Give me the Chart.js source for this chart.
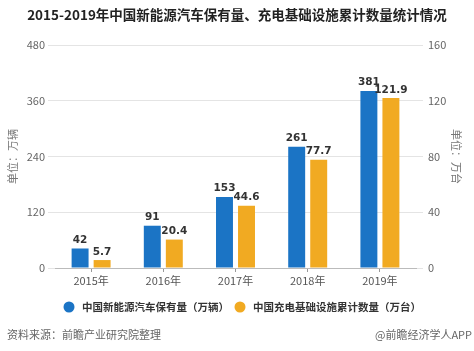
<!DOCTYPE html>
<html>
<head>
<meta charset="utf-8">
<script src="https://cdn.jsdelivr.net/npm/chart.js@4"></script>
<style>
  html, body { margin: 0; padding: 0; background: #fff; }
  #wrap { width: 474px; height: 351px; position: relative; }
</style>
</head>
<body>
<div id="wrap"><canvas id="chart" width="474" height="351"></canvas></div>
<script>
const years = ["2015年", "2016年", "2017年", "2018年", "2019年"];
const evStock = [42, 91, 153, 261, 381];
const chargers = [5.7, 20.4, 44.6, 77.7, 121.9];
const evLabel = "中国新能源汽车保有量（万辆）";
const chargerLabel = "中国充电基础设施累计数量（万台）";

const BLUE = "#1b74c5";
const ORANGE = "#f1aa22";
const CJK = "'Noto Sans CJK SC', 'Noto Sans', sans-serif";

// value labels above every bar
const valueLabels = {
  id: "valueLabels",
  afterDatasetsDraw(chart) {
    const ctx = chart.ctx;
    ctx.save();
    ctx.font = "bold 10.5px 'DejaVu Sans', sans-serif";
    ctx.fillStyle = "#333";
    ctx.textAlign = "center";
    ctx.textBaseline = "bottom";
    chart.data.datasets.forEach((ds, i) => {
      chart.getDatasetMeta(i).data.forEach((bar, j) => {
        ctx.fillText(String(ds.data[j]), bar.x, bar.y - 3);
      });
    });
    ctx.restore();
  },
};

// title, legend and footer
const decorations = {
  id: "decorations",
  afterDraw(chart) {
    const ctx = chart.ctx;
    ctx.save();
    ctx.fillStyle = "#222";
    ctx.font = `bold 13.5px ${CJK}`;
    ctx.textAlign = "center";
    ctx.textBaseline = "middle";
    ctx.fillText("2015-2019年中国新能源汽车保有量、充电基础设施累计数量统计情况", 237, 15);

    const items = [
      { color: BLUE, text: evLabel, x: 69 },
      { color: ORANGE, text: chargerLabel, x: 240 },
    ];
    ctx.textAlign = "left";
    ctx.font = `bold 10.5px ${CJK}`;
    items.forEach((it) => {
      ctx.beginPath();
      ctx.arc(it.x, 307, 5.5, 0, Math.PI * 2);
      ctx.fillStyle = it.color;
      ctx.fill();
      ctx.fillStyle = "#333";
      ctx.fillText(it.text, it.x + 13, 307);
    });

    ctx.font = `11px ${CJK}`;
    ctx.fillStyle = "#666";
    ctx.fillText("资料来源：前瞻产业研究院整理", 7, 335);
    ctx.textAlign = "right";
    ctx.fillText("@前瞻经济学人APP", 472, 335);
    ctx.restore();
  },
};

new Chart(document.getElementById("chart"), {
  type: "bar",
  data: {
    labels: years,
    datasets: [
      { label: evLabel, data: evStock, backgroundColor: BLUE, yAxisID: "y" },
      { label: chargerLabel, data: chargers, backgroundColor: ORANGE, yAxisID: "y1" },
    ],
  },
  options: {
    responsive: false,
    animation: false,
    layout: { padding: { top: 45, bottom: 63, left: 0, right: 0 } },
    datasets: { bar: { categoryPercentage: 0.61, barPercentage: 0.77 } },
    plugins: {
      legend: { display: false },
      tooltip: { enabled: false },
    },
    scales: {
      x: {
        grid: { display: true, drawOnChartArea: false, offset: false, tickLength: 4, color: "#999" },
        border: { color: "#bbb" },
        ticks: { color: "#555", padding: 2, font: { family: CJK, size: 11 } },
        afterFit(scale) { scale.height = 20; },
      },
      y: {
        position: "left",
        min: 0,
        max: 480,
        ticks: { stepSize: 120, color: "#666", padding: 3, font: { family: CJK, size: 11 } },
        grid: { color: "#e4e4e4", tickLength: 7 },
        border: { display: false },
        title: { display: true, text: "单位：万辆", color: "#777", padding: { top: 6, bottom: 0 }, font: { family: CJK, size: 11 } },
        afterFit(scale) { scale.width = 55; },
      },
      y1: {
        position: "right",
        min: 0,
        max: 160,
        ticks: { stepSize: 40, color: "#666", padding: 5, font: { family: CJK, size: 11 } },
        grid: { drawOnChartArea: false, color: "#e4e4e4", tickLength: 7 },
        border: { display: false },
        title: { display: true, text: "单位：万台", color: "#777", padding: { top: 11, bottom: 0 }, font: { family: CJK, size: 11 } },
        afterFit(scale) { scale.width = 58; },
      },
    },
  },
  plugins: [valueLabels, decorations],
});
</script>
</body>
</html>
